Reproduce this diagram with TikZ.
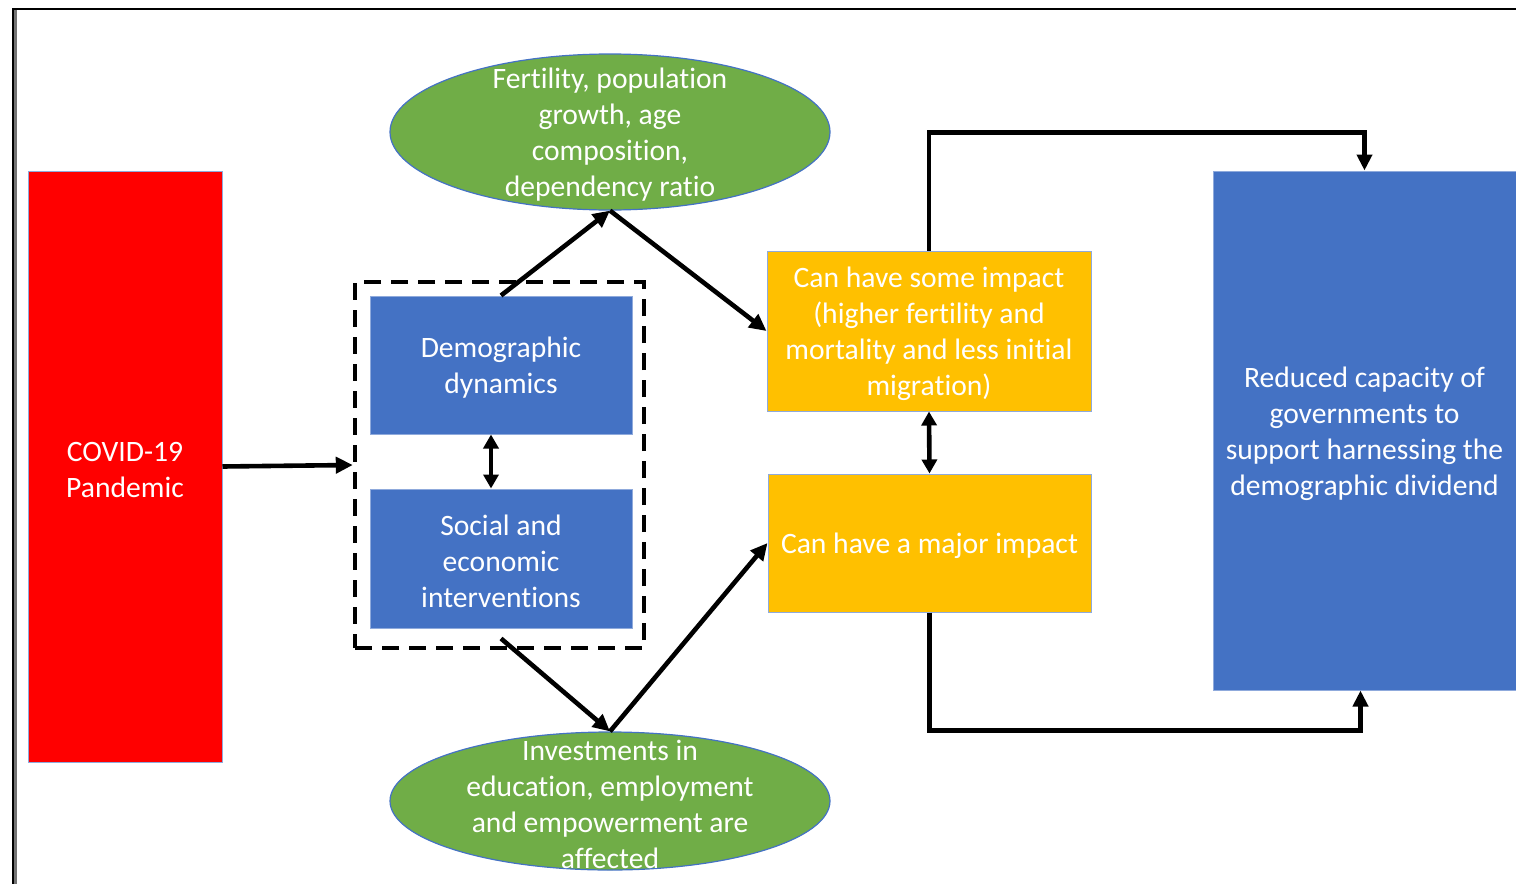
\documentclass[tikz,border=0pt]{standalone}
\usepackage{fontspec}
\setmainfont[Ligatures={NoCommon}]{Carlito}
\usetikzlibrary{arrows.meta,shapes.geometric}
\definecolor{cred}{HTML}{FF0000}
\definecolor{cblue}{HTML}{4472C4}
\definecolor{cgreen}{HTML}{70AD47}
\definecolor{cyell}{HTML}{FFC000}
\definecolor{cedge}{HTML}{8FAADC}
\tikzset{
  txt/.style={text=white, align=center, font=\fontsize{14.8}{18}\selectfont, yshift=-1.5pt},
  box/.style={rectangle, draw=cedge, line width=0.5pt, inner sep=0pt},
  oval/.style={ellipse, draw=cblue, line width=0.6pt, fill=cgreen, inner sep=0pt},
  arr/.style={line width=2.3pt, -{Triangle[length=8.5pt,width=8pt]}},
  darr/.style={line width=2.3pt, {Triangle[length=7pt,width=7.5pt]}-{Triangle[length=7pt,width=7.5pt]}},
  elbow/.style={line width=2.3pt, -{Triangle[length=8pt,width=7.5pt]}},
  grp/.style={rectangle, draw=black, line width=2.2pt, dash pattern=on 8.5pt off 5pt, inner sep=0pt}
}
\begin{document}
\begin{tikzpicture}[x=0.5pt,y=-0.5pt]
\useasboundingbox (0,0) rectangle (1516,884);
% frame
\draw[line width=1.2pt, black!55] (15.5,10) -- (15.5,884);
\draw[line width=1.2pt, black] (12,9) -- (1516,9);
\draw[line width=1.2pt, black] (13,9) -- (13,884);
% nodes
\node[box, fill=cred, minimum width=97pt, minimum height=295.5pt, label={[txt]center:{COVID-19\\Pandemic}}] (covid) at (125,466.5) {};
\node[grp, minimum width=144.5pt, minimum height=183pt] (group) at (499.5,465) {};
\node[box, fill=cblue, minimum width=131pt, minimum height=69pt, label={[txt]center:{Demographic\\dynamics}}] (demo) at (501,365) {};
\node[box, fill=cblue, minimum width=131pt, minimum height=69.5pt, label={[txt]center:{Social and\\economic\\interventions}}] (social) at (501,558.5) {};
\node[oval, minimum width=220pt, minimum height=78pt, label={[txt]center:{Fertility, population\\growth, age\\composition,\\dependency ratio}}] (fert) at (610,132) {};
\node[oval, minimum width=220pt, minimum height=69pt, label={[txt]center:{Investments in\\education, employment\\and empowerment are\\affected}}] (invest) at (610,801) {};
\node[box, fill=cyell, minimum width=162pt, minimum height=80pt, label={[txt]center:{Can have some impact\\(higher fertility and\\mortality and less initial\\migration)}}] (some) at (929,331) {};
\node[box, fill=cyell, minimum width=161.5pt, minimum height=69pt, label={[txt]center:{Can have a major impact}}] (major) at (929.5,543) {};
\node[box, fill=cblue, minimum width=151.5pt, minimum height=259.5pt, label={[txt]center:{Reduced capacity of\\governments to\\support harnessing the\\demographic dividend}}] (gov) at (1364.5,430.5) {};
% connectors
\draw[arr] (covid.east) -- (group.west);
\draw[arr] (demo.north) -- (fert.south);
\draw[arr] (fert.south) -- (some.west);
\draw[darr] ([xshift=-5pt]demo.south) -- ([xshift=-5pt]social.north);
\draw[arr] ([yshift=-5pt]social.south) -- (invest.north);
\draw[arr] (invest.north) -- (major.west);
\draw[darr] (some.south) -- (major.north);
\draw[elbow] (some.north) -- ++(0,-118) -| (gov.north);
\draw[elbow] (major.south) -- ++(0,118) -| ([xshift=-2pt]gov.south);
\end{tikzpicture}
\end{document}
